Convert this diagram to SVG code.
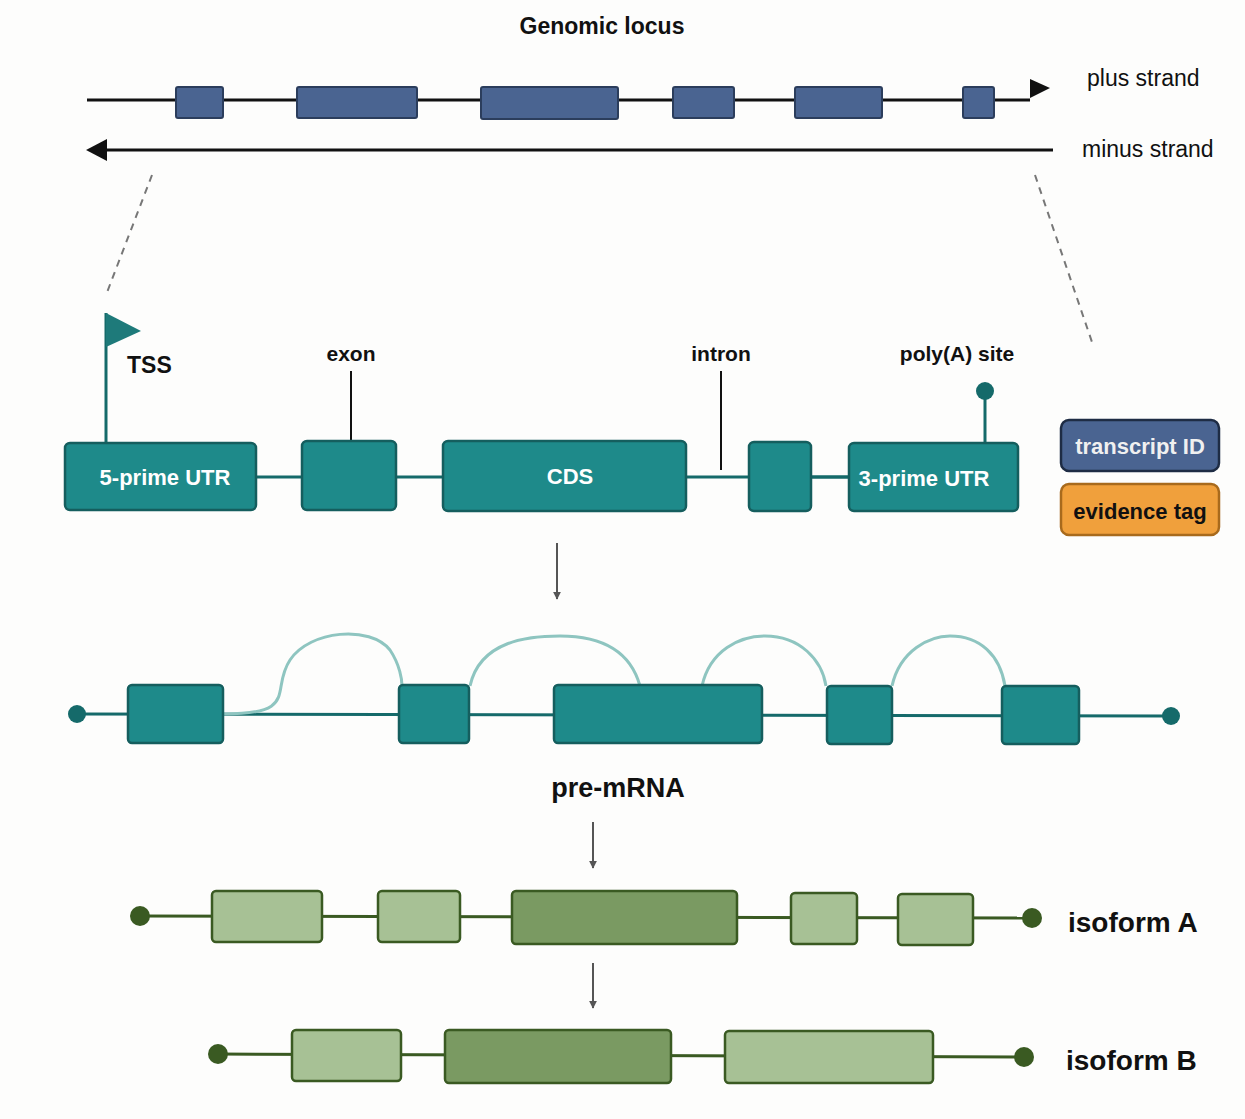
<svg xmlns="http://www.w3.org/2000/svg" width="1245" height="1119" viewBox="0 0 1245 1119">
<defs>
<style>
text{font-family:"Liberation Sans",Arial,sans-serif;}
.lbl{font-size:23px;fill:#111;font-weight:bold;}
.lt{font-size:23px;fill:#111;}
.g{fill:#4a6491;stroke:#2b3d5c;stroke-width:2;}
.t{fill:#1e8a8a;stroke:#155e5e;stroke-width:2.5;}
.tl{stroke:#156a6a;stroke-width:3;fill:none;}
.arc{stroke:#8ec5c0;stroke-width:3;fill:none;}
.pl{fill:#a7c195;stroke:#3a5a22;stroke-width:2.5;}
.pd{fill:#7a9a62;stroke:#3a5a22;stroke-width:2.5;}
.gl{stroke:#3a5a22;stroke-width:3;}
.wt{font-size:22px;fill:#fff;font-weight:bold;}
.ar{stroke:#555;stroke-width:2;}
</style>
<marker id="ah" viewBox="0 0 10 10" refX="9" refY="5" markerWidth="8" markerHeight="8" orient="auto" markerUnits="userSpaceOnUse"><path d="M0,0L10,5L0,10z" fill="#555"/></marker>
</defs>
<rect width="1245" height="1119" fill="#fdfdfc"/>
<text x="602" y="34" text-anchor="middle" class="lbl">Genomic locus</text>
<g id="connectors">
<line x1="87" y1="100" x2="1030" y2="100" stroke="#111" stroke-width="3"/>
<path d="M1028,88L1050,88L1050,88L1050,88L1050,88" fill="none"/>
<polygon points="1028,89 1050,89 1028,112" fill="none"/>
<polygon points="1028,88 1050,88 1050,88" fill="none"/>
<polygon points="1028,89 1050,89" fill="none"/>
<line x1="105" y1="150" x2="1053" y2="150" stroke="#111" stroke-width="3"/>
<line x1="152" y1="175" x2="106" y2="295" stroke="#777" stroke-width="2" stroke-dasharray="7,6"/>
<line x1="1035" y1="175" x2="1093" y2="345" stroke="#777" stroke-width="2" stroke-dasharray="7,6"/>
<line x1="557" y1="543" x2="557" y2="599" class="ar" marker-end="url(#ah)"/>
<line x1="593" y1="822" x2="593" y2="868" class="ar" marker-end="url(#ah)"/>
<line x1="593" y1="963" x2="593" y2="1008" class="ar" marker-end="url(#ah)"/>
<line x1="256" y1="477" x2="850" y2="477" class="tl"/>
<line x1="810" y1="477" x2="850" y2="477" class="tl"/>
<line x1="106" y1="442" x2="106" y2="313" class="tl"/>
<line x1="985" y1="442" x2="985" y2="392" class="tl"/>
<line x1="351" y1="440" x2="351" y2="371" stroke="#111" stroke-width="2"/>
<line x1="721" y1="470" x2="721" y2="371" stroke="#111" stroke-width="2"/>
<line x1="77" y1="714" x2="1171" y2="716" class="tl"/>
<path d="M224,714C300,714 270,690 290,660C310,630 370,625 390,650C400,665 402,680 402,686" class="arc"/>
<path d="M470,686C480,640 530,636 560,636C600,636 630,650 640,686" class="arc"/>
<path d="M702,686C710,650 740,636 765,636C800,636 822,660 826,686" class="arc"/>
<path d="M892,686C900,650 930,636 950,636C980,636 1000,655 1005,686" class="arc"/>
<line x1="140" y1="916" x2="1032" y2="918" class="gl"/>
<line x1="218" y1="1054" x2="1024" y2="1057" class="gl"/>
</g>
<polygon points="1028,88 1050,88 1050,88" fill="#111"/>
<polygon points="1030,79 1050,88 1030,98" fill="#111"/>
<polygon points="86,150 107,139 107,161" fill="#111"/>
<g id="genomic-exons">
<rect x="176" y="87" width="47" height="31" rx="2" class="g"/>
<rect x="297" y="87" width="120" height="31" rx="2" class="g"/>
<rect x="481" y="87" width="137" height="32" rx="2" class="g"/>
<rect x="673" y="87" width="61" height="31" rx="2" class="g"/>
<rect x="795" y="87" width="87" height="31" rx="2" class="g"/>
<rect x="963" y="87" width="31" height="31" rx="2" class="g"/>
</g>
<text x="1087" y="86" class="lt">plus strand</text>
<text x="1082" y="157" class="lt">minus strand</text>
<g id="tss"><polygon points="106,313 141,331 106,347" fill="#1e7a7a"/><text x="127" y="373" class="lbl" font-size="28">TSS</text></g>
<text x="351" y="361" text-anchor="middle" class="lbl" style="font-size:21px">exon</text>
<text x="721" y="361" text-anchor="middle" class="lbl" style="font-size:21px">intron</text>
<text x="957" y="361" text-anchor="middle" class="lbl" style="font-size:21px">poly(A) site</text>
<circle cx="985" cy="391" r="9" fill="#156a6a"/>
<g id="utr5"><rect x="65" y="443" width="191" height="67" rx="5" class="t"/><text x="165" y="485" text-anchor="middle" class="wt">5-prime UTR</text></g>
<g id="exon2"><rect x="302" y="441" width="94" height="69" rx="5" class="t"/></g>
<g id="cds"><rect x="443" y="441" width="243" height="70" rx="5" class="t"/><text x="570" y="484" text-anchor="middle" class="wt">CDS</text></g>
<g id="exon4"><rect x="749" y="442" width="62" height="69" rx="5" class="t"/></g>
<g id="utr3"><rect x="849" y="443" width="169" height="68" rx="5" class="t"/><text x="924" y="486" text-anchor="middle" class="wt">3-prime UTR</text></g>
<g id="legend-id"><rect x="1061" y="420" width="158" height="51" rx="8" fill="#4a6491" stroke="#1e2c44" stroke-width="2.5"/><text x="1140" y="454" text-anchor="middle" class="wt" style="fill:#f0f0f0">transcript ID</text></g>
<g id="legend-ev"><rect x="1061" y="484" width="158" height="51" rx="8" fill="#f0a03c" stroke="#a86a1c" stroke-width="2.5"/><text x="1140" y="519" text-anchor="middle" class="lbl" style="font-size:22px">evidence tag</text></g>
<g id="pre-mrna">
<circle cx="77" cy="714" r="9" fill="#156a6a"/>
<circle cx="1171" cy="716" r="9" fill="#156a6a"/>
<rect x="128" y="685" width="95" height="58" rx="4" class="t"/>
<rect x="399" y="685" width="70" height="58" rx="4" class="t"/>
<rect x="554" y="685" width="208" height="58" rx="4" class="t"/>
<rect x="827" y="686" width="65" height="58" rx="4" class="t"/>
<rect x="1002" y="686" width="77" height="58" rx="4" class="t"/>
<text x="618" y="797" text-anchor="middle" class="lbl" style="font-size:27px">pre-mRNA</text>
</g>
<g id="isoformA">
<circle cx="140" cy="916" r="10" fill="#3a5a22"/>
<circle cx="1032" cy="918" r="10" fill="#3a5a22"/>
<rect x="212" y="891" width="110" height="51" rx="4" class="pl"/>
<rect x="378" y="891" width="82" height="51" rx="4" class="pl"/>
<rect x="512" y="891" width="225" height="53" rx="4" class="pd"/>
<rect x="791" y="893" width="66" height="51" rx="4" class="pl"/>
<rect x="898" y="894" width="75" height="51" rx="4" class="pl"/>
<text x="1068" y="932" class="lbl" style="font-size:28px">isoform A</text>
</g>
<g id="isoformB">
<circle cx="218" cy="1054" r="10" fill="#3a5a22"/>
<circle cx="1024" cy="1057" r="10" fill="#3a5a22"/>
<rect x="292" y="1030" width="109" height="51" rx="4" class="pl"/>
<rect x="445" y="1030" width="226" height="53" rx="4" class="pd"/>
<rect x="725" y="1031" width="208" height="52" rx="4" class="pl"/>
<text x="1066" y="1070" class="lbl" style="font-size:28px">isoform B</text>
</g>
</svg>
